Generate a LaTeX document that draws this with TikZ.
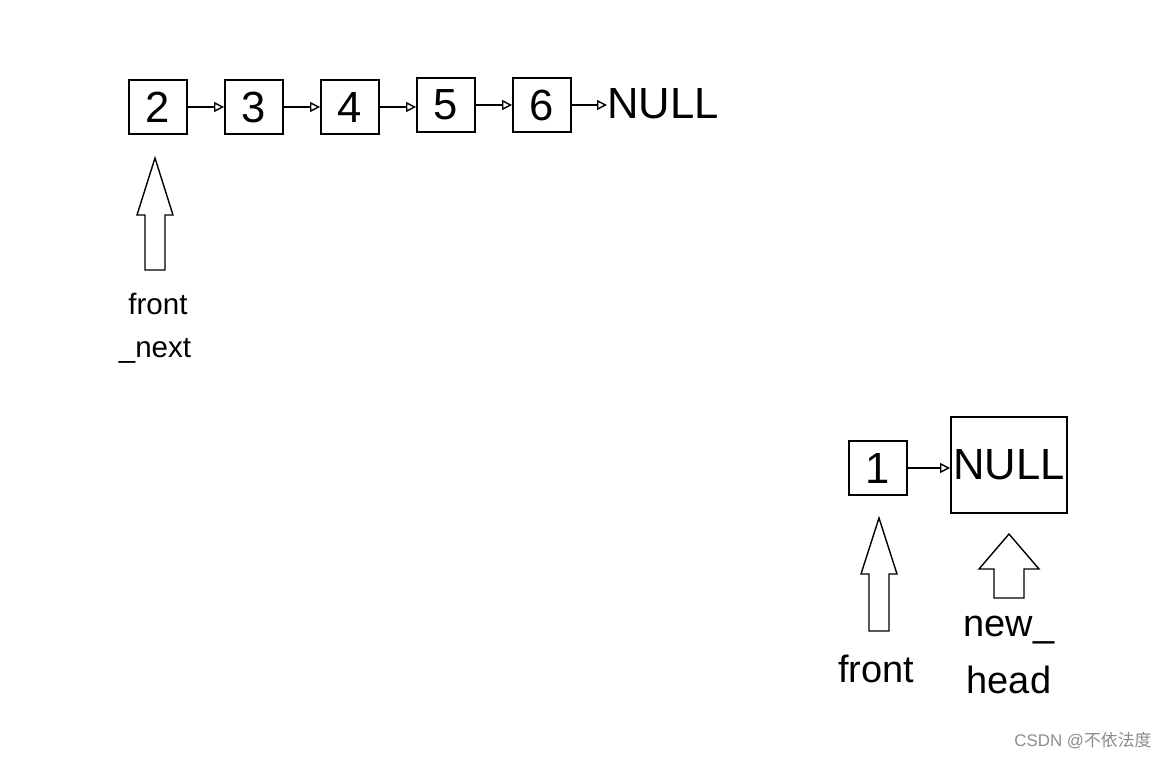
\documentclass[tikz,border=0pt]{standalone}
\usepackage{fontspec}
\setmainfont{Liberation Sans}
\newfontfamily\cjkfont{Noto Sans CJK SC}
\usetikzlibrary{arrows.meta, positioning}
\tikzset{
	cell/.style    ={rectangle, draw=black, line width=1.3pt, minimum width=1.45cm, minimum height=1.35cm, inner sep=0pt, font=\fontsize{31}{36}\selectfont},
	nullbox/.style ={rectangle, draw=black, line width=1.3pt, minimum width=2.9cm, minimum height=2.38cm, inner sep=0pt, font=\fontsize{31}{36}\selectfont},
	nulltxt/.style ={inner sep=0pt, font=\fontsize{31}{36}\selectfont},
	link/.style    ={-{Triangle[open, length=2.5mm, width=2.5mm]}, line width=1pt},
	ptr/.style     ={draw=black, line width=1pt, fill=white},
	tag/.style     ={inner sep=0pt, font=\fontsize{21}{24}\selectfont},
	bigtag/.style  ={inner sep=0pt, font=\fontsize{27}{32}\selectfont},
}
% hollow up arrow: x, tip y, head base y, bottom y, half head, half shaft
\newcommand{\uparr}[6]{%
	\draw[ptr] (#1,#2) -- (#1+#5,#3) -- (#1+#6,#3) -- (#1+#6,#4)
		-- (#1-#6,#4) -- (#1-#6,#3) -- (#1-#5,#3) -- cycle;}

\begin{document}
\begin{tikzpicture}[x=0.025cm, y=-0.025cm]
	\useasboundingbox (0,0) rectangle (1167,759);
	% first list
	\node[cell] (n2) at (158,107) {2};
	\node[cell] (n3) at (254,107) {3};
	\node[cell] (n4) at (350,107) {4};
	\node[cell] (n5) at (446,105) {5};
	\node[cell] (n6) at (542,105) {6};
	\node[nulltxt, anchor=west] (null1) at (607,104) {NULL};
	\foreach \a/\b in {n2/n3,n3/n4,n4/n5,n5/n6,n6/null1}
	\draw[link] (\a.east) -- (\a.east -| \b.west);
	\uparr{155}{158}{215}{270}{18}{10}
	\node[tag] (fn) at (158,304) {front};
	\node[tag] (nx) at (155,351) {\_next};
	% second list
	\node[cell] (n1) at (878,468) {1};
	\node[nullbox] (null2) at (1009,465) {NULL};
	\draw[link] (n1.east) -- (n1.east -| null2.west);
	\uparr{879}{518}{574}{631}{18}{10}
	\node[bigtag] (fr) at (876,669) {front};
	\uparr{1009}{534}{569}{598}{30}{15}
	\node[bigtag] (nw) at (1009,630) {new\_};
	\node[bigtag] (hd) at (1009,680) {head};
	\node[inner sep=0pt, text=black!45, font=\fontsize{12}{14}\selectfont] (wm) at (1083,741) {CSDN @{\cjkfont 不依法度}};
\end{tikzpicture}
\end{document}
